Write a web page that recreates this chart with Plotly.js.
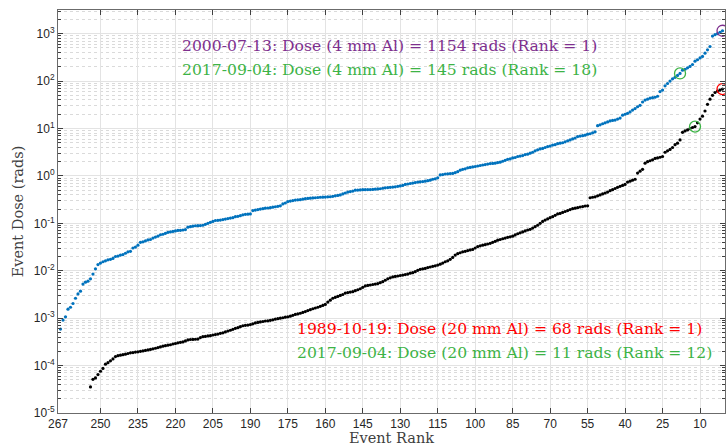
<!DOCTYPE html>
<html><head><meta charset="utf-8">
<script src="https://cdn.plot.ly/plotly-3.0.1.min.js"></script>
<style>html,body{margin:0;padding:0;background:#fff;}</style>
</head><body><div id="chart" style="width:726px;height:446px;"></div>
<script>
// Event dose behind 4 mm Al, ordered from rank 266 down to rank 1
const dose4mm = [
0.000589,0.000912,0.00107,0.00155,0.00170,0.00204,0.00263,0.00324,0.00372,0.00525,
0.00575,0.00603,0.00676,0.00851,0.0110,0.0135,0.0145,0.0155,0.0162,0.0170,
0.0174,0.0182,0.0200,0.0204,0.0214,0.0219,0.0234,0.0251,0.0257,0.0302,
0.0316,0.0347,0.0398,0.0407,0.0427,0.0447,0.0457,0.0490,0.0513,0.0537,
0.0575,0.0589,0.0617,0.0646,0.0661,0.0676,0.0692,0.0708,0.0712,0.0724,
0.0741,0.0832,0.0851,0.0871,0.0891,0.0893,0.0896,0.0912,0.0955,0.100,
0.105,0.110,0.115,0.116,0.117,0.120,0.123,0.126,0.129,0.132,
0.138,0.141,0.145,0.151,0.155,0.156,0.158,0.186,0.191,0.195,
0.200,0.204,0.209,0.211,0.214,0.219,0.224,0.229,0.234,0.257,
0.269,0.288,0.295,0.302,0.309,0.313,0.316,0.324,0.331,0.335,
0.339,0.343,0.347,0.351,0.355,0.356,0.359,0.363,0.364,0.372,
0.380,0.389,0.398,0.417,0.437,0.457,0.468,0.479,0.501,0.503,
0.507,0.513,0.514,0.515,0.516,0.519,0.525,0.531,0.537,0.550,
0.562,0.569,0.575,0.582,0.589,0.603,0.617,0.631,0.661,0.676,
0.692,0.708,0.724,0.741,0.750,0.759,0.776,0.794,0.813,0.851,
0.871,0.912,1.05,1.07,1.10,1.11,1.12,1.13,1.17,1.23,
1.32,1.38,1.41,1.48,1.51,1.55,1.58,1.62,1.66,1.70,
1.74,1.78,1.82,1.84,1.86,1.91,1.95,2.04,2.14,2.24,
2.29,2.40,2.45,2.57,2.63,2.69,2.82,2.88,3.02,3.16,
3.39,3.55,3.72,3.80,3.98,4.17,4.27,4.47,4.57,4.79,
4.90,5.01,5.25,5.50,5.75,6.03,6.31,6.76,6.92,7.08,
7.24,7.59,7.76,8.13,8.51,11.5,12.0,12.6,13.2,13.8,
14.5,14.8,15.1,15.8,16.6,19.1,20.0,20.9,22.4,24.5,
26.3,28.8,30.9,36.3,39.8,41.7,43.7,44.7,45.7,47.9,
60.3,64.6,79.4,89.1,100,112,120,132,145,170,
178,191,204,224,263,282,309,331,389,457,
537,891,955,1000,1072,1154];

// Event dose behind 20 mm Al, ordered from rank 254 down to rank 1
const dose20mm = [
0.0000355,0.0000513,0.0000550,0.0000646,0.0000759,0.0000871,0.000107,0.000115,0.000126,0.000138,
0.000155,0.000162,0.000166,0.000170,0.000174,0.000180,0.000186,0.000188,0.000193,0.000195,
0.000200,0.000204,0.000209,0.000214,0.000219,0.000226,0.000232,0.000240,0.000248,0.000257,
0.000263,0.000269,0.000275,0.000285,0.000292,0.000302,0.000309,0.000316,0.000331,0.000347,
0.000355,0.000356,0.000359,0.000363,0.000389,0.000407,0.000412,0.000422,0.000427,0.000442,
0.000452,0.000462,0.000479,0.000490,0.000513,0.000537,0.000556,0.000582,0.000610,0.000631,
0.000661,0.000692,0.000708,0.000716,0.000733,0.000759,0.000794,0.000813,0.000832,0.000851,
0.000871,0.000881,0.000902,0.000923,0.000955,0.000977,0.00100,0.00102,0.00105,0.00107,
0.00110,0.00115,0.00120,0.00123,0.00127,0.00132,0.00138,0.00145,0.00151,0.00158,
0.00164,0.00170,0.00178,0.00186,0.00195,0.00219,0.00240,0.00263,0.00275,0.00288,
0.00302,0.00316,0.00339,0.00347,0.00355,0.00363,0.00380,0.00398,0.00417,0.00447,
0.00479,0.00490,0.00501,0.00513,0.00525,0.00537,0.00562,0.00589,0.00631,0.00676,
0.00708,0.00741,0.00759,0.00776,0.00794,0.00813,0.00832,0.00851,0.00891,0.00912,
0.00955,0.0102,0.0107,0.0110,0.0112,0.0117,0.0120,0.0124,0.0127,0.0132,
0.0138,0.0145,0.0155,0.0162,0.0174,0.0191,0.0214,0.0229,0.0240,0.0251,
0.0257,0.0266,0.0275,0.0282,0.0302,0.0324,0.0335,0.0347,0.0355,0.0367,
0.0380,0.0398,0.0417,0.0442,0.0457,0.0473,0.0490,0.0507,0.0519,0.0537,
0.0569,0.0603,0.0631,0.0661,0.0692,0.0724,0.0750,0.0794,0.0851,0.0912,
0.100,0.110,0.117,0.124,0.132,0.138,0.148,0.158,0.162,0.170,
0.178,0.186,0.195,0.204,0.209,0.214,0.221,0.226,0.232,0.234,
0.347,0.355,0.363,0.380,0.398,0.417,0.437,0.457,0.490,0.513,
0.543,0.575,0.603,0.631,0.661,0.741,0.776,0.813,0.851,1.15,
1.26,1.38,1.86,2.00,2.09,2.19,2.34,2.40,2.48,2.57,
3.16,3.39,3.63,3.98,4.57,4.90,5.75,8.32,8.91,9.33,
10.0,10.5,11.0,13.2,15.8,18.2,23.4,32.4,41.7,50.1,
57.5,61.7,64.6,68.1];

// highlighted events (rank)
const hl4mmRanks = [1, 18];
const hl4mmColors = ['#7E2F8E', '#3DB346'];
const hl20mmRanks = [1, 12];
const hl20mmColors = ['#FF0000', '#3DB346'];

const xTickVals = [267,250,235,220,205,190,175,160,145,130,115,100,85,70,55,40,25,10,0];
const yTickVals = [1e-5,1e-4,1e-3,1e-2,1e-1,1e0,1e1,1e2,1e3];
const yTickText = ['10<sup>-5</sup>','10<sup>-4</sup>','10<sup>-3</sup>','10<sup>-2</sup>','10<sup>-1</sup>','10<sup>0</sup>','10<sup>1</sup>','10<sup>2</sup>','10<sup>3</sup>'];

const annoTexts = [
  '2000-07-13: Dose (4 mm Al) = 1154 rads (Rank = 1)',
  '2017-09-04: Dose (4 mm Al) = 145 rads (Rank = 18)',
  '1989-10-19: Dose (20 mm Al) = 68 rads (Rank = 1)',
  '2017-09-04: Dose (20 mm Al) = 11 rads (Rank = 12)'
];
const annoColors = ['#7E2F8E','#3DB346','#FF0000','#3DB346'];

const rank4 = dose4mm.map((v,i)=>dose4mm.length - i);
const rank20 = dose20mm.map((v,i)=>dose20mm.length - i);
const valAt = (arr, r) => arr[arr.length - r];

const minorVals = [];
for (let k=-5;k<=3;k++){ for (let m=2;m<=9;m++){ minorVals.push(m*Math.pow(10,k)); } }

const serif = 'DejaVu Serif, Liberation Serif, serif';

const traces = [
  {x: rank4, y: dose4mm, type:'scatter', mode:'markers', cliponaxis:false,
   marker:{color:'#0072BD', size:3.2}, hoverinfo:'x+y'},
  {x: rank20, y: dose20mm, type:'scatter', mode:'markers', cliponaxis:false,
   marker:{color:'#000000', size:3.2}, hoverinfo:'x+y'},
  {x: hl4mmRanks, y: hl4mmRanks.map(r=>valAt(dose4mm,r)), type:'scatter', mode:'markers', cliponaxis:false,
   marker:{symbol:'circle-open', size:11, color:hl4mmColors, line:{width:1.3, color:hl4mmColors}}},
  {x: hl20mmRanks, y: hl20mmRanks.map(r=>valAt(dose20mm,r)), type:'scatter', mode:'markers', cliponaxis:false,
   marker:{symbol:'circle-open', size:11, color:hl20mmColors, line:{width:1.3, color:hl20mmColors}}}
];

const annPos = [[0.183,0.911],[0.183,0.851],[0.355,0.208],[0.355,0.149]];
const annotations = annoTexts.map((t,i)=>({
  text:t, xref:'paper', yref:'paper', x:annPos[i][0], y:annPos[i][1],
  xanchor:'left', yanchor:'middle', showarrow:false,
  font:{family:serif, size:15.6, color:annoColors[i]}
}));

const axisFont = {family:'Liberation Sans, Arial, sans-serif', size:12, color:'#262626'};
const layout = {
  width:726, height:446,
  margin:{l:58, r:1, t:10, b:33},
  paper_bgcolor:'#ffffff', plot_bgcolor:'#ffffff',
  showlegend:false,
  xaxis:{
    range:[267,0], autorange:false,
    tickmode:'array', tickvals:xTickVals, ticktext:xTickVals.map(String),
    ticks:'inside', ticklen:5, tickcolor:'#404040', tickwidth:1,
    showline:true, linecolor:'#6b6b6b', linewidth:1, mirror:'ticks',
    showgrid:true, gridcolor:'#e3e3e3', gridwidth:1, zeroline:false,
    tickfont:axisFont,
    title:{text:'Event Rank', standoff:2, font:{family:serif, size:14.5, color:'#404040'}}
  },
  yaxis:{
    type:'log', range:[-5,3.5], autorange:false,
    tickmode:'array', tickvals:yTickVals, ticktext:yTickText,
    ticks:'inside', ticklen:5, tickcolor:'#404040', tickwidth:1,
    showline:true, linecolor:'#6b6b6b', linewidth:1, mirror:'ticks',
    showgrid:true, gridcolor:'#e3e3e3', gridwidth:1, zeroline:false,
    tickfont:axisFont,
    minor:{tickmode:'array', tickvals:minorVals, ticks:'inside', ticklen:3, tickcolor:'#404040',
           showgrid:true, gridcolor:'#dadada', griddash:'dot', gridwidth:1},
    title:{text:'Event Dose (rads)', standoff:6, font:{family:serif, size:14.5, color:'#404040'}}
  },
  annotations: annotations
};

Plotly.newPlot('chart', traces, layout, {displayModeBar:false, staticPlot:true});
</script>
</body></html>
